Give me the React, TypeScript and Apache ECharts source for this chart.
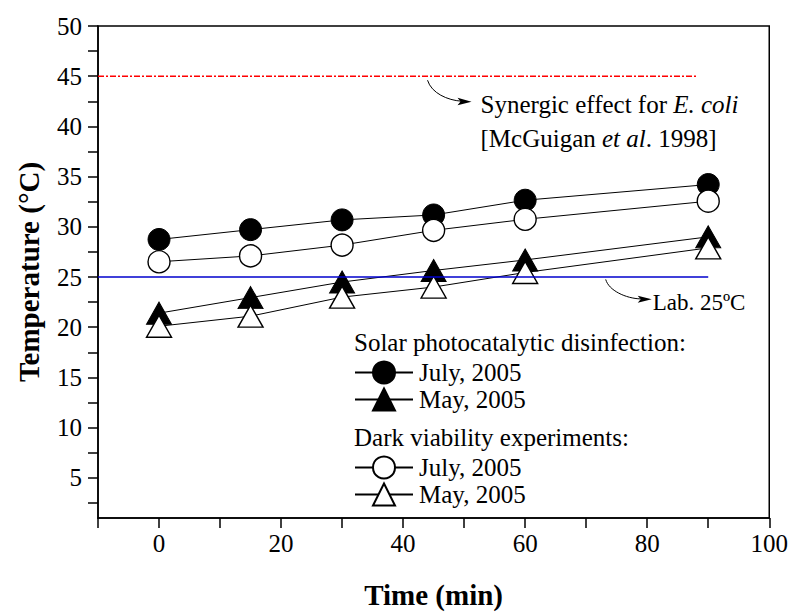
import React, { useEffect, useRef } from 'react';
import * as echarts from 'echarts';

// ---- data ----
const times = [0, 15, 30, 45, 60, 90];
const solarJuly = [28.74, 29.72, 30.69, 31.18, 32.65, 34.21];
const solarMay = [21.4, 22.95, 24.5, 25.65, 26.7, 29.0];
const darkJuly = [26.52, 27.1, 28.18, 29.65, 30.75, 32.55];
const darkMay = [20.1, 21.1, 23.0, 24.0, 25.45, 27.9];

const yLabelValues = [5, 10, 15, 20, 25, 30, 35, 40, 45, 50];
const yTickValues = [2.5, 5, 7.5, 10, 12.5, 15, 17.5, 20, 22.5, 25, 27.5, 30, 32.5, 35, 37.5, 40, 42.5, 45, 47.5, 50];

const synergicLevel = 45;
const synergicSpan = [-10, 88];
const labLevel = 25;
const labSpan = [-10, 90];

const legendNames: Record<string, string> = {
  solarJuly: 'July, 2005',
  solarMay: 'May, 2005',
  darkJuly: 'July, 2005',
  darkMay: 'May, 2005',
};

// annotation anchors (data coordinates)
const synergicArrowStart = [44, 44.6];
const labArrowStart = [73.2, 24.76];

const FONT = 'Liberation Serif';

const pairs = (vals: number[]) => times.map((t, i) => [t, vals[i]]);

export default function App() {
  const ref = useRef<HTMLDivElement>(null);
  useEffect(() => {
    if (!ref.current) return;
    const chart = echarts.init(ref.current, null, { renderer: 'svg' });

    const filled = (name: string, vals: number[], symbol: string, size: any) => ({
      name,
      type: 'line',
      data: pairs(vals),
      symbol,
      symbolSize: size,
      showSymbol: true,
      lineStyle: { color: '#000', width: 1 },
      itemStyle: { color: '#000', borderColor: '#000', borderWidth: 1 },
      z: 3,
    });
    const open = (name: string, vals: number[], symbol: string, size: any) => ({
      name,
      type: 'line',
      data: pairs(vals),
      symbol,
      symbolSize: size,
      showSymbol: true,
      lineStyle: { color: '#000', width: 1 },
      itemStyle: { color: '#fff', borderColor: '#000', borderWidth: 1.4 },
      z: 4,
    });

    const legendBase = {
      orient: 'vertical',
      itemWidth: 58,
      itemHeight: 27.5,
      itemGap: 2,
      padding: 0,
      selectedMode: false,
      formatter: (n: string) => legendNames[n],
      textStyle: { fontFamily: FONT, fontSize: 25, color: '#000', padding: [0, 0, 0, 1] },
    };

    const option: any = {
      animation: false,
      backgroundColor: '#fff',
      textStyle: { fontFamily: FONT },
      grid: {
        left: 98,
        right: 19,
        top: 26,
        bottom: 87,
        show: true,
        borderColor: '#000',
        borderWidth: 1.5,
        backgroundColor: 'transparent',
      },
      xAxis: {
        type: 'value',
        min: -10,
        max: 100,
        interval: 10,
        name: 'Time (min)',
        nameLocation: 'middle',
        nameGap: 62,
        nameTextStyle: { fontFamily: FONT, fontWeight: 'bold', fontSize: 29, color: '#000' },
        axisLine: { onZero: false, lineStyle: { color: '#000', width: 1.5 } },
        axisTick: { length: 10, lineStyle: { color: '#000', width: 1.5 } },
        axisLabel: {
          formatter: (v: number) => (v >= 0 && v % 20 === 0 ? String(v) : ''),
          fontFamily: FONT,
          fontSize: 25,
          color: '#000',
          margin: 13,
        },
        splitLine: { show: false },
      },
      yAxis: {
        type: 'value',
        min: 1,
        max: 50,
        name: 'Temperature (°C)',
        nameLocation: 'middle',
        nameGap: 55,
        nameTextStyle: { fontFamily: FONT, fontWeight: 'bold', fontSize: 29, color: '#000' },
        axisLine: { onZero: false, lineStyle: { color: '#000', width: 1.5 } },
        axisTick: { customValues: yTickValues, length: 10, lineStyle: { color: '#000', width: 1.5 } },
        axisLabel: {
          customValues: yLabelValues,
          fontFamily: FONT,
          fontSize: 25,
          color: '#000',
          margin: 16,
        },
        splitLine: { show: false },
      },
      legend: [
        { ...legendBase, data: ['solarJuly', 'solarMay'], left: 354, top: 360 },
        { ...legendBase, data: ['darkJuly', 'darkMay'], left: 354, top: 455 },
      ],
      series: [
        filled('solarJuly', solarJuly, 'circle', 22),
        filled('solarMay', solarMay, 'triangle', [25, 22]),
        open('darkJuly', darkJuly, 'circle', 22),
        open('darkMay', darkMay, 'triangle', [25, 22]),
        {
          name: 'synergic',
          type: 'line',
          data: synergicSpan.map((x) => [x, synergicLevel]),
          symbol: 'none',
          silent: true,
          lineStyle: { color: '#ff0000', width: 1.5, type: [6, 2, 2, 2] },
          z: 5,
        },
        {
          name: 'lab',
          type: 'line',
          data: labSpan.map((x) => [x, labLevel]),
          symbol: 'none',
          silent: true,
          lineStyle: { color: '#0000cc', width: 1.5 },
          z: 5,
        },
      ],
    };
    chart.setOption(option);

    const p1 = chart.convertToPixel({ gridIndex: 0 }, synergicArrowStart) as number[];
    const p2 = chart.convertToPixel({ gridIndex: 0 }, labArrowStart) as number[];
    const textStyle = { fontFamily: FONT, fontSize: 25, fill: '#000' };

    chart.setOption({
      graphic: [
        {
          type: 'bezierCurve',
          shape: { x1: p1[0], y1: p1[1], cpx1: p1[0] + 4, cpy1: p1[1] + 13, cpx2: p1[0] + 20, cpy2: p1[1] + 20, x2: p1[0] + 34, y2: p1[1] + 21 },
          style: { stroke: '#000', lineWidth: 1, fill: 'none' },
          silent: true,
        },
        {
          type: 'polygon',
          shape: { points: [[p1[0] + 44, p1[1] + 21.5], [p1[0] + 30, p1[1] + 17.5], [p1[0] + 33, p1[1] + 21.3], [p1[0] + 30, p1[1] + 25]] },
          style: { fill: '#000' },
          silent: true,
        },
        {
          type: 'text',
          x: p1[0] + 53,
          y: p1[1] + 24,
          style: {
            text: '{n|Synergic effect for }{i|E. coli}',
            rich: {
              n: { ...textStyle },
              i: { ...textStyle, fontStyle: 'italic' },
            },
            ...textStyle,
            verticalAlign: 'middle',
            align: 'left',
          },
          silent: true,
        },
        {
          type: 'text',
          x: p1[0] + 53,
          y: p1[1] + 58,
          style: {
            text: '{n|[McGuigan }{i|et al}{n|. 1998]}',
            rich: {
              n: { ...textStyle },
              i: { ...textStyle, fontStyle: 'italic' },
            },
            ...textStyle,
            verticalAlign: 'middle',
            align: 'left',
          },
          silent: true,
        },
        {
          type: 'bezierCurve',
          shape: { x1: p2[0], y1: p2[1], cpx1: p2[0] + 3, cpy1: p2[1] + 11, cpx2: p2[0] + 20, cpy2: p2[1] + 19, x2: p2[0] + 35, y2: p2[1] + 19.5 },
          style: { stroke: '#000', lineWidth: 1, fill: 'none' },
          silent: true,
        },
        {
          type: 'polygon',
          shape: { points: [[p2[0] + 46, p2[1] + 19.8], [p2[0] + 32, p2[1] + 16.3], [p2[0] + 35, p2[1] + 19.7], [p2[0] + 32, p2[1] + 23.3]] },
          style: { fill: '#000' },
          silent: true,
        },
        {
          type: 'text',
          x: p2[0] + 47,
          y: p2[1] + 23,
          style: { text: 'Lab. 25ºC', ...textStyle, fontSize: 23, verticalAlign: 'middle', align: 'left' },
          silent: true,
        },
        {
          type: 'text',
          x: 354,
          y: 342,
          style: { text: 'Solar photocatalytic disinfection:', ...textStyle, verticalAlign: 'middle', align: 'left' },
          silent: true,
        },
        {
          type: 'text',
          x: 354,
          y: 437,
          style: { text: 'Dark viability experiments:', ...textStyle, verticalAlign: 'middle', align: 'left' },
          silent: true,
        },
      ],
    });

    return () => chart.dispose();
  }, []);

  return <div ref={ref} style={{ position: 'fixed', left: 0, top: 0, width: 791, height: 614 }} />;
}
